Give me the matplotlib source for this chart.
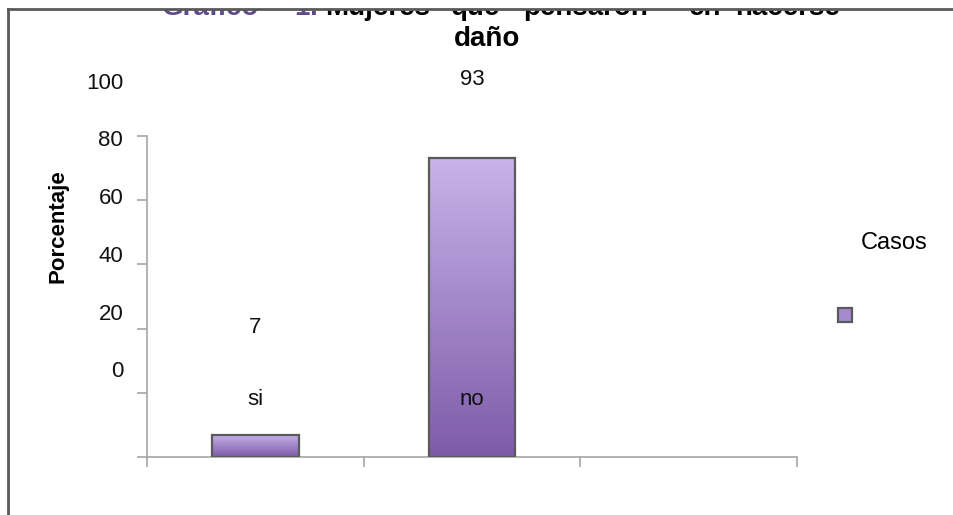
import numpy as np
import matplotlib.pyplot as plt
from matplotlib.patches import Rectangle
from matplotlib.colors import LinearSegmentedColormap

plt.rcParams['font.family'] = ['Liberation Sans', 'DejaVu Sans']

# datos del grafico
categorias = ['si', 'no', '']
porcentajes = [7, 93]
ticks_y = [0, 20, 40, 60, 80, 100]
titulo_palabras = ['Gráfico', '1:', 'Mujeres', 'que', 'pensaron', 'en', 'hacerse']
titulo_x = [162, 294, 325, 451, 523, 689, 735]   # posicion izquierda de cada palabra (px)

W, H = 954, 515
fig = plt.figure(figsize=(W / 100, H / 100), dpi=100)
ax = fig.add_axes([147 / W, 58 / H, 650 / W, 321 / H])

# degradado lila de arriba (claro) a abajo (oscuro)
degradado = LinearSegmentedColormap.from_list('lila', ['#7E5BA9', '#C7B3E9'])
grad = np.linspace(0, 1, 256).reshape(-1, 1)

x = np.arange(len(porcentajes))
barras = ax.bar(x, porcentajes, width=0.4, facecolor='none',
                edgecolor='#5A5A5A', linewidth=1.6, zorder=3)
for b in barras:
    x0, y0 = b.get_x(), b.get_y()
    w, h = b.get_width(), b.get_height()
    im = ax.imshow(grad, cmap=degradado, origin='lower', aspect='auto',
                   extent=[x0, x0 + w, y0, y0 + h], zorder=2)
    im.set_clip_path(b)

ax.set_xlim(-0.5, 2.5)
ax.set_ylim(0, 100)

# ejes
for s in ['top', 'right']:
    ax.spines[s].set_visible(False)
for s in ['left', 'bottom']:
    ax.spines[s].set_color('#A6A6A6')
    ax.spines[s].set_linewidth(1.2)
ax.set_yticks(ticks_y)
ax.set_yticklabels([])
ax.set_xticks([-0.5, 0.5, 1.5, 2.5])
ax.set_xticklabels([])
ax.tick_params(axis='both', color='#A6A6A6', length=7, width=1.2)

# etiquetas del eje y desplazadas (como en el original)
for v in ticks_y:
    ax.text(-0.61, 0.9 * v + 26.5, str(v), ha='right', va='center',
            fontsize=16, color='#111111', clip_on=False)

# etiquetas de datos y categorias
for i, v in enumerate(porcentajes):
    ax.text(i, 0.9 * v + 34, str(v), ha='center', va='center',
            fontsize=16, color='#111111', clip_on=False)
    ax.text(i, 17.8, categorias[i], ha='center', va='center',
            fontsize=16, color='#111111', zorder=4)

fig.text(58 / W, 1 - 226 / H, 'Porcentaje', rotation=90, ha='center', va='center',
         fontsize=16, fontweight='bold')

# leyenda
fig.text(894 / W, 1 - 243 / H, 'Casos', ha='center', va='center', fontsize=17)
fig.patches.append(Rectangle((838 / W, 1 - 322 / H), 14 / W, 14 / H,
                             transform=fig.transFigure, facecolor='#A48BD0',
                             edgecolor='#5A5A5A', linewidth=1.6))

# titulo (primera linea cortada por el borde)
for i, (pal, px) in enumerate(zip(titulo_palabras, titulo_x)):
    fig.text(px / W, 1 - 15 / H, pal, ha='left', va='baseline', fontsize=20,
             fontweight='bold', color='#5E4A8A' if i < 2 else 'black')
fig.text(487 / W, 1 - 46 / H, 'daño', ha='center', va='baseline',
         fontsize=20, fontweight='bold')

# tapa blanca arriba y borde del area del grafico
fig.patches.append(Rectangle((0, 1 - 9 / H), 1, 9 / H, transform=fig.transFigure,
                             facecolor='white', edgecolor='none', zorder=10))
fig.lines.append(plt.Line2D([8 / W, 1], [1 - 9 / H, 1 - 9 / H], transform=fig.transFigure,
                            color='#595959', linewidth=2, zorder=11))
fig.lines.append(plt.Line2D([8 / W, 8 / W], [0, 1 - 9 / H], transform=fig.transFigure,
                            color='#595959', linewidth=2, zorder=11))

fig.savefig('out.png', dpi=100)
